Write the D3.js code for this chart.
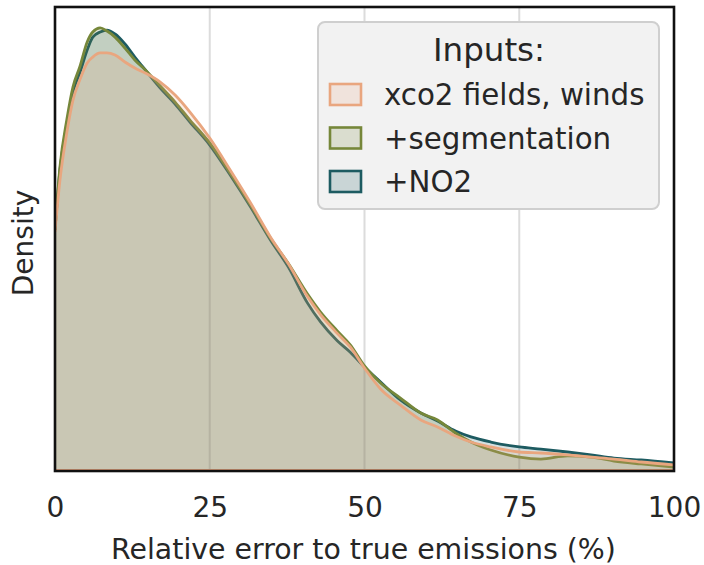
<!DOCTYPE html>
<html>
<head>
<meta charset="utf-8">
<script src="https://cdn.jsdelivr.net/npm/d3@7"></script>
<style>
  html, body { margin: 0; padding: 0; background: #ffffff; }
  svg { display: block; font-family: "DejaVu Sans", sans-serif; }
</style>
</head>
<body>
<svg id="chart" width="704" height="565"></svg>
<script>
// Relative error (%) at which each density estimate is sampled
const errorPct = [0, 0.8, 1.9, 2.9, 4, 5.2, 6.1, 7.3, 8.4, 9.7, 11.3, 12.9, 14.6, 17, 19.4, 21.8, 25,
  28.3, 31.6, 34.8, 37.7, 40.8, 42.9, 45.6, 47.7, 50, 52.6, 55.8, 59.1, 61.8, 64.7, 67.2, 70.4,
  75, 78.5, 82.8, 86.6, 90.3, 94.7, 100];

// Kernel density of the relative error for each set of inputs
const densityXco2 = [0.01455, 0.01772, 0.02060, 0.02261, 0.02384, 0.02488, 0.02524, 0.02549, 0.02549,
  0.02536, 0.02494, 0.02457, 0.02426, 0.02371, 0.02292, 0.02188, 0.02029, 0.01834, 0.01632, 0.01424,
  0.01260, 0.01060, 0.00950, 0.00835, 0.00752, 0.00623, 0.00495, 0.00397, 0.00306, 0.00263, 0.00208,
  0.00171, 0.00141, 0.00110, 0.00104, 0.00092, 0.00079, 0.00067, 0.00049, 0.00031];
const densitySeg = [0.01467, 0.01852, 0.02139, 0.02341, 0.02463, 0.02616, 0.02677, 0.02702, 0.02683,
  0.02646, 0.02579, 0.02506, 0.02445, 0.02347, 0.02249, 0.02139, 0.01999, 0.01815, 0.01620, 0.01418,
  0.01262, 0.01075, 0.00965, 0.00850, 0.00765, 0.00636, 0.00532, 0.00440, 0.00348, 0.00306, 0.00226,
  0.00171, 0.00122, 0.00079, 0.00067, 0.00086, 0.00079, 0.00055, 0.00037, 0.00018];
const densityNo2 = [0.01467, 0.01834, 0.02109, 0.02310, 0.02426, 0.02567, 0.02646, 0.02677, 0.02689,
  0.02665, 0.02604, 0.02524, 0.02445, 0.02335, 0.02237, 0.02127, 0.01986, 0.01803, 0.01607, 0.01406,
  0.01240, 0.01020, 0.00905, 0.00790, 0.00720, 0.00630, 0.00538, 0.00428, 0.00348, 0.00299, 0.00238,
  0.00202, 0.00171, 0.00141, 0.00128, 0.00110, 0.00092, 0.00073, 0.00061, 0.00043];

const seriesNames = ["xco2 fields, winds", "+segmentation", "+NO2"];
const seriesColors = ["#e9a67f", "#76873a", "#1d5b61"];
const xTicks = [0, 25, 50, 75, 100];

const series = [densityXco2, densitySeg, densityNo2].map((vals, i) => ({
  name: seriesNames[i],
  color: seriesColors[i],
  points: errorPct.map((x, j) => ({ x, y: vals[j] }))
}));

const svg = d3.select("#chart");
const plot = { left: 55, right: 674, top: 7, bottom: 471 };

const x = d3.scaleLinear().domain([0, 100]).range([plot.left, plot.right]);
const y = d3.scaleLinear().domain([0, 0.0283]).range([plot.bottom - 1, plot.top]);

const textColor = "#262626";
const fillAlpha = 0.19;

// Vertical grid lines
svg.append("g")
  .selectAll("line")
  .data(xTicks.slice(1, -1))
  .join("line")
  .attr("x1", d => x(d)).attr("x2", d => x(d))
  .attr("y1", plot.top).attr("y2", plot.bottom)
  .attr("stroke", "#dcdcdc")
  .attr("stroke-width", 2);

svg.append("clipPath").attr("id", "plot-clip")
  .append("rect")
  .attr("x", plot.left).attr("y", plot.top)
  .attr("width", plot.right - plot.left).attr("height", plot.bottom - plot.top);

const area = d3.area()
  .x(d => x(d.x))
  .y0(y(0))
  .y1(d => y(d.y))
  .curve(d3.curveMonotoneX);

const line = d3.line()
  .x(d => x(d.x))
  .y(d => y(d.y))
  .curve(d3.curveMonotoneX);

const layers = svg.append("g").attr("clip-path", "url(#plot-clip)");

// Later hue levels are painted first so the first level sits on top
series.slice().reverse().forEach(s => {
  layers.append("path")
    .datum(s.points)
    .attr("d", area)
    .attr("fill", s.color)
    .attr("fill-opacity", fillAlpha)
    .attr("stroke", "none");
  layers.append("path")
    .datum(s.points)
    .attr("d", line)
    .attr("fill", "none")
    .attr("stroke", s.color)
    .attr("stroke-width", 2.8)
    .attr("stroke-linejoin", "round");
  layers.append("line")
    .attr("x1", plot.left).attr("x2", plot.right)
    .attr("y1", y(0)).attr("y2", y(0))
    .attr("stroke", s.color)
    .attr("stroke-width", 2);
});

// Frame
svg.append("rect")
  .attr("x", plot.left).attr("y", plot.top)
  .attr("width", plot.right - plot.left).attr("height", plot.bottom - plot.top)
  .attr("fill", "none")
  .attr("stroke", "#111111")
  .attr("stroke-width", 2.6);

// X axis labels
const xAxis = d3.axisBottom(x).tickValues(xTicks).tickSize(0).tickPadding(0).tickFormat(d3.format("d"));
const xAxisG = svg.append("g")
  .attr("transform", `translate(0, ${plot.bottom})`)
  .call(xAxis);
xAxisG.select(".domain").remove();
xAxisG.selectAll("text")
  .attr("y", 46)
  .attr("dy", null)
  .attr("font-size", 28)
  .attr("font-family", "DejaVu Sans")
  .attr("fill", textColor);

svg.append("text")
  .attr("x", (plot.left + plot.right) / 2 - 1)
  .attr("y", 559)
  .attr("text-anchor", "middle")
  .attr("font-size", 28.4)
  .attr("fill", textColor)
  .text("Relative error to true emissions (%)");

svg.append("text")
  .attr("transform", `translate(33, ${(plot.top + plot.bottom) / 2 + 4}) rotate(-90)`)
  .attr("text-anchor", "middle")
  .attr("font-size", 28)
  .attr("fill", textColor)
  .text("Density");

// Legend
const legend = svg.append("g");
legend.append("rect")
  .attr("x", 318).attr("y", 22)
  .attr("width", 341).attr("height", 187)
  .attr("rx", 7)
  .attr("fill", "#f2f2f2")
  .attr("stroke", "#cfcfcf")
  .attr("stroke-width", 2);
legend.append("text")
  .attr("x", 489).attr("y", 61)
  .attr("text-anchor", "middle")
  .attr("font-size", 32.5)
  .attr("fill", textColor)
  .text("Inputs:");

const rows = legend.selectAll("g.row")
  .data(series)
  .join("g")
  .attr("class", "row")
  .attr("transform", (d, i) => `translate(0, ${i * 43.5})`);
rows.append("rect")
  .attr("x", 330).attr("y", 84)
  .attr("width", 31).attr("height", 21)
  .attr("fill", "#f2f2f2");
rows.append("rect")
  .attr("x", 330).attr("y", 84)
  .attr("width", 31).attr("height", 21)
  .attr("fill", d => d.color)
  .attr("fill-opacity", fillAlpha)
  .attr("stroke", d => d.color)
  .attr("stroke-width", 2.6);
rows.append("text")
  .attr("x", 384).attr("y", 105)
  .attr("font-size", 29.3)
  .attr("fill", textColor)
  .text(d => d.name);
</script>
</body>
</html>
